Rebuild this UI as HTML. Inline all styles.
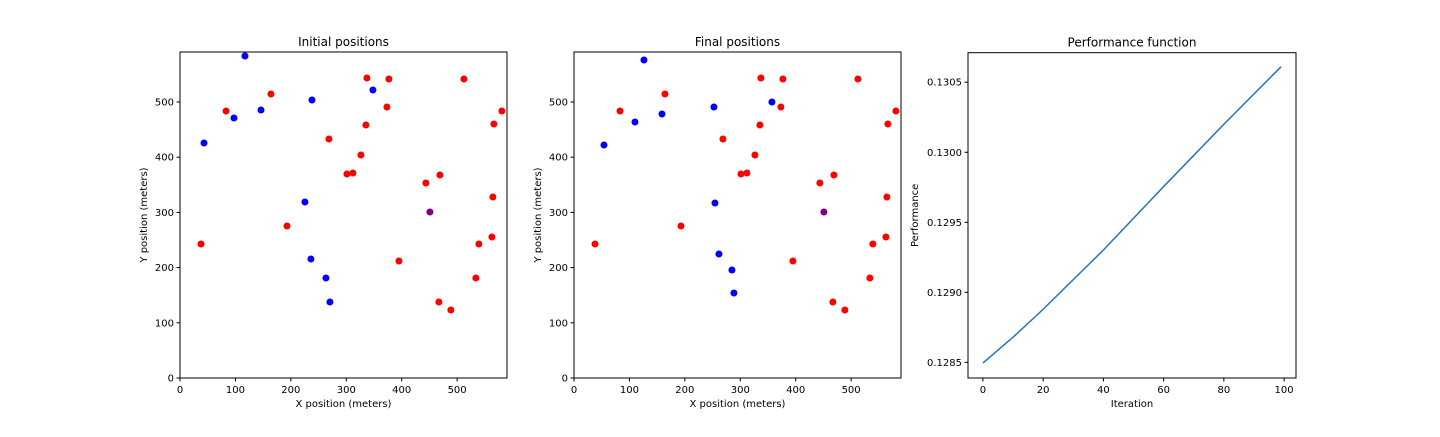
<!DOCTYPE html>
<html><head><meta charset="utf-8"><style>
body{margin:0;background:#fff;width:1440px;height:432px;overflow:hidden}
svg{font-family:"DejaVu Sans","Liberation Sans",sans-serif;}
</style></head><body>
<svg id="fig" width="1440" height="432" xmlns="http://www.w3.org/2000/svg"></svg>
<script>
// Initial positions
const initBlueX=[117.2,43.3,97.4,146.1,238.1,348.1,225.4,236.2,263.3,270.5];
const initBlueY=[583.3,425.7,471.0,485.5,503.6,521.7,318.8,215.6,181.2,137.7];
// Final positions
const finalBlueX=[126.2,54.1,110.0,158.7,252.5,357.1,254.3,261.5,284.9,288.5];
const finalBlueY=[576.1,422.1,463.8,478.3,490.9,500.0,317.0,224.6,195.7,154.0];
// Red (same in both)
const redX=[83.0,164.1,337.2,376.9,373.3,335.4,268.7,326.4,301.2,312.0,512.2,566.3,580.7,443.6,468.9,37.9,193.0,564.5,539.2,562.7,533.8,395.0,467.1,488.7];
const redY=[483.7,514.5,543.5,541.7,490.9,458.3,433.0,404.0,369.6,371.4,541.7,460.1,483.7,353.3,367.8,242.8,275.4,327.9,242.8,255.4,181.2,212.0,137.7,123.2];
const purpleX=[450.9];
const purpleY=[300.7];
// Performance
const perfIter=[0,10,20,40,60,80,99];
const perfVal=[0.128495,0.128679,0.128879,0.129302,0.129755,0.130200,0.130611];
const posTicks=[0,100,200,300,400,500];
const iterTicks=[0,20,40,60,80,100];
const perfTicks=[0.1285,0.1290,0.1295,0.1300,0.1305];

const NS="http://www.w3.org/2000/svg";
const svg=document.getElementById('fig');
function mk(tag,attrs,parent){const e=document.createElementNS(NS,tag);for(const k in attrs)e.setAttribute(k,attrs[k]);(parent||svg).appendChild(e);return e;}

function axes(x0,x1,y0,y1,xmin,xmax,ymin,ymax,title,xl,yl,xt,yt,fmtY,name){
  const g=mk('g',{});
  
  
  const sx=v=>x0+(v-xmin)/(xmax-xmin)*(x1-x0);
  const sy=v=>y1-(v-ymin)/(ymax-ymin)*(y1-y0);
  const marks=mk('g',{},g);
  mk('rect',{x:x0,y:y0,width:x1-x0,height:y1-y0,fill:'none',stroke:'#000','stroke-width':1},g);
  xt.forEach(v=>{const x=sx(v);mk('line',{x1:x,x2:x,y1:y1,y2:y1+3.5,stroke:'#000'},g);
    const t=mk('text',{x:x,y:y1+15,'font-size':10,'text-anchor':'middle'},g);t.textContent=v;
    });
  yt.forEach(v=>{const y=sy(v);mk('line',{x1:x0-3.5,x2:x0,y1:y,y2:y,stroke:'#000'},g);
    const t=mk('text',{x:x0-6,y:y+3.5,'font-size':10,'text-anchor':'end'},g);t.textContent=fmtY(v);
    });
  const tt=mk('text',{x:(x0+x1)/2,y:y0-6,'font-size':12,'text-anchor':'middle'},g);tt.textContent=title;
  
  const xa=mk('text',{x:(x0+x1)/2,y:y1+29,'font-size':10,'text-anchor':'middle'},g);xa.textContent=xl;
  
  const yx=yl==='Performance'?x0-50:x0-33;
  const ya=mk('text',{x:yx,y:(y0+y1)/2,'font-size':10,'text-anchor':'middle',transform:`rotate(-90 ${yx} ${(y0+y1)/2})`},g);ya.textContent=yl;
  
  return {sx,sy,marks};
}
function pts(ax,X,Y,color,name){
  X.forEach((v,i)=>{const c=mk('circle',{cx:ax.sx(v),cy:ax.sy(Y[i]),r:3.5,fill:color},ax.marks);
    });
}
const XMAX=590,YMAX=590.6;
const a1=axes(180,507,52,378,0,XMAX,0,YMAX,'Initial positions','X position (meters)','Y position (meters)',posTicks,posTicks,v=>v,'initial-positions-chart');
pts(a1,redX,redY,'#ff0000','red-point');pts(a1,initBlueX,initBlueY,'#0000ff','blue-point');pts(a1,purpleX,purpleY,'#800080','purple-point');
const a2=axes(574,901,52,378,0,XMAX,0,YMAX,'Final positions','X position (meters)','Y position (meters)',posTicks,posTicks,v=>v,'final-positions-chart');
pts(a2,redX,redY,'#ff0000','red-point');pts(a2,finalBlueX,finalBlueY,'#0000ff','blue-point');pts(a2,purpleX,purpleY,'#800080','purple-point');
const a3=axes(968,1296,52.7,378,-4.95,103.95,0.128388,0.130711,'Performance function','Iteration','Performance',iterTicks,perfTicks,v=>v.toFixed(4),'performance-chart');
const p=mk('path',{d:perfIter.map((v,i)=>(i?'L':'M')+a3.sx(v)+' '+a3.sy(perfVal[i])).join(' '),fill:'none',stroke:'#1f77b4','stroke-width':1.5},a3.marks);


</script>
</body></html>
